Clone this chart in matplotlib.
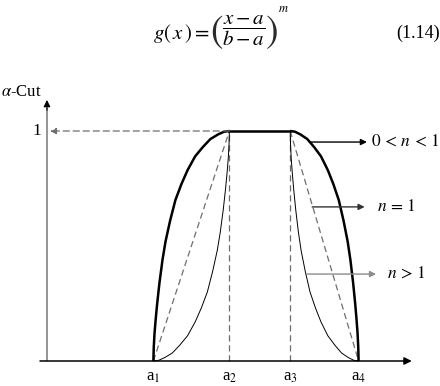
import matplotlib
matplotlib.use("Agg")
import matplotlib.pyplot as plt
import numpy as np

plt.rcParams['font.family'] = ['Liberation Serif', 'DejaVu Serif']
plt.rcParams['mathtext.fontset'] = 'stix'

# break points of the trapezoid (alpha-cut = 0 / 1)
a_points = [1.4, 2.4, 3.2, 4.1]
a_labels = ['a$_{1}$', 'a$_{2}$', 'a$_{3}$', 'a$_{4}$']

# curve shapes, t = relative position between a1 and a2
# 0 < n < 1 (thick curve)
t_thick = [0, 0.005, 0.015, 0.03, 0.05, 0.08, 0.12, 0.16, 0.22, 0.29,
           0.37, 0.45, 0.55, 0.65, 0.75, 0.85, 0.93, 1.0]
alpha_thick = [0, 0.06, 0.12, 0.18, 0.25, 0.34, 0.44, 0.52, 0.61, 0.70,
               0.77, 0.83, 0.89, 0.93, 0.965, 0.985, 0.997, 1.0]
# n > 1 (thin curve)
t_thin = [0, 0.07, 0.15, 0.25, 0.35, 0.45, 0.55, 0.63, 0.71, 0.78,
          0.84, 0.88, 0.92, 0.95, 0.97, 0.985, 0.995, 1.0]
alpha_thin = [0, 0.003, 0.015, 0.035, 0.07, 0.11, 0.17, 0.23, 0.30, 0.39,
              0.48, 0.56, 0.66, 0.75, 0.82, 0.88, 0.94, 1.0]

n_labels = [r'$0\,<\,n\,<\,1$', r'$n\,=\,1$', r'$n\,>\,1$']

a1, a2, a3, a4 = a_points
DASH_GRAY = '#6e6e6e'

fig = plt.figure(figsize=(4.4, 3.86), dpi=100)
ax = fig.add_axes([0, 0, 1, 1])
ax.set_xlim(-0.618, 5.171)
ax.set_ylim(-0.1087, 1.5696)
ax.axis('off')

# axes
ax.annotate('', xy=(4.80, 0), xytext=(-0.092, 0),
            arrowprops=dict(arrowstyle='-|>', color='black', lw=1.1,
                            mutation_scale=11, shrinkA=0, shrinkB=0))
ax.plot([0, 0], [0, 1.10], color='#8c8c8c', lw=1.3, solid_capstyle='butt')
ax.annotate('', xy=(0, 1.135), xytext=(0, 1.09),
            arrowprops=dict(arrowstyle='-|>', color='black', lw=0.8,
                            mutation_scale=10, shrinkA=0, shrinkB=0))

# dashed guide lines
ax.annotate('', xy=(0.04, 1.0), xytext=(a2, 1.0),
            arrowprops=dict(arrowstyle='-|>', color=DASH_GRAY, lw=0.9,
                            ls=(0, (5, 3)), mutation_scale=9,
                            shrinkA=0, shrinkB=0))
for xv in (a2, a3):
    ax.plot([xv, xv], [0, 1], color=DASH_GRAY, lw=0.9, dashes=(5, 3))

# n = 1 : straight dashed sides
ax.plot([a1, a2], [0, 1], color=DASH_GRAY, lw=0.9, dashes=(5, 3))
ax.plot([a3, a4], [1, 0], color=DASH_GRAY, lw=0.9, dashes=(5, 3))

t_thick = np.array(t_thick)
t_thin = np.array(t_thin)

# n > 1 : thin curves
ax.plot(a1 + t_thin * (a2 - a1), alpha_thin, color='black', lw=0.7)
ax.plot(a4 - t_thin * (a4 - a3), alpha_thin, color='black', lw=0.7)

# 0 < n < 1 : thick curves and plateau
ax.plot(a1 + t_thick * (a2 - a1), alpha_thick, color='black', lw=1.8,
        solid_capstyle='butt')
ax.plot(a4 - t_thick * (a4 - a3), alpha_thick, color='black', lw=1.8,
        solid_capstyle='butt')
ax.plot([a2, a3], [1, 1], color='black', lw=1.8)

# labels on the axes
ax.text(-0.08, 1.0, '1', fontsize=12.5, ha='right', va='center')
ax.text(-0.60, 1.17, r'$\alpha$-Cut', fontsize=12, ha='left', va='center')
for xv, lab in zip(a_points, a_labels):
    ax.text(xv, -0.068, lab, fontsize=12, ha='center', va='center')

# curve labels with arrows
arrow_rows = [(3.46, 4.21, 0.952, 4.26, 'black'),
              (3.49, 4.18, 0.67, 4.34, '#333333'),
              (3.42, 4.33, 0.378, 4.47, '#8c8c8c')]
for (x0, x1, yv, xt, col), lab in zip(arrow_rows, n_labels):
    ax.annotate('', xy=(x1, yv), xytext=(x0, yv),
                arrowprops=dict(arrowstyle='-|>', color=col, lw=1.0,
                                mutation_scale=9, shrinkA=0, shrinkB=0))
    ax.text(xt, yv, lab, fontsize=12.5, ha='left', va='center')

# formula at the top, built from pieces so the brackets can be tall
ax.text(2.14, 1.426, r'$g\left(\,x\,\right)=$', fontsize=15,
        ha='right', va='center')
ax.text(2.235, 1.43, '$($', fontsize=27, ha='center', va='center',
        color='#2a2a2a')
ax.text(2.59, 1.435, r'$\dfrac{x-a}{b-a}$', fontsize=15,
        ha='center', va='center')
ax.text(2.95, 1.43, '$)$', fontsize=27, ha='center', va='center',
        color='#2a2a2a')
ax.text(3.04, 1.53, '$m$', fontsize=9, ha='left', va='center')
ax.text(4.59, 1.426, '(1.14)', fontsize=13, ha='left', va='center')

fig.savefig('out.png', dpi=100)
